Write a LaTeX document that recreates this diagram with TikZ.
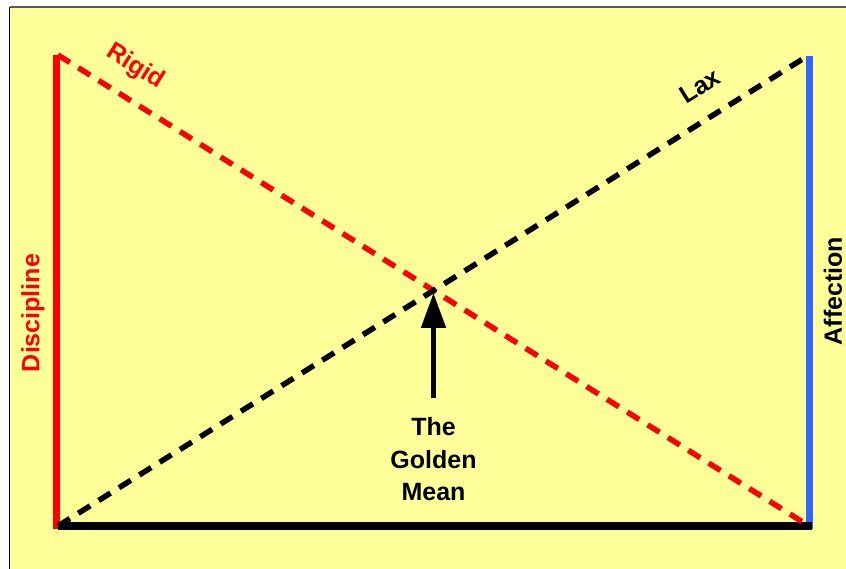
\documentclass[tikz,border=0pt]{standalone}
\usepackage{fontspec}
\setmainfont{Liberation Sans}
\usetikzlibrary{arrows.meta}
\definecolor{bgyellow}{RGB}{255,255,153}
\definecolor{myred}{RGB}{255,0,0}
\definecolor{myblue}{RGB}{51,102,255}
\tikzset{
  axisline/.style={line width=7pt},
  diag/.style={line width=5.5pt, dash pattern=on 14pt off 10pt},
  lbl/.style={font=\fontsize{25}{32.5}\selectfont\bfseries, inner sep=0pt},
}
\begin{document}
\begin{tikzpicture}[x=1pt,y=-1pt]
\useasboundingbox (0,0) rectangle (846,569);
\fill[white] (0,0) rectangle (846,569);
\fill[bgyellow] (9.5,7) rectangle (846,569);
\draw[gray!70!black, line width=1.5pt] (9.5,7) -- (846,7);
\draw[black, line width=1.5pt] (9.5,7) -- (9.5,569);
% corners
\coordinate (TL) at (58,55);
\coordinate (BL) at (58,526);
\coordinate (TR) at (809,55);
\coordinate (BR) at (809,526);
\coordinate (RT) at (56,55);
\coordinate (RB) at (56,529);
\coordinate (BT) at (809,56);
\coordinate (BB) at (809,529);
% axes
\draw[axisline, myred] (RT) -- (RB);
\draw[axisline, myblue] (BT) -- (BB);
\draw[line width=8pt, black] (BL) -- ([xshift=3pt]BR);
% diagonals
\draw[diag, myred] (TL) -- (BR);
\draw[diag, black] (BL) -- (TR);
\coordinate (X) at (433.5,291);
% labels
\node[lbl, myred, rotate=-32] (rigid) at (135,67) {Rigid};
\node[lbl, black, rotate=32] (lax) at (700,86) {Lax};
\node[lbl, myred, rotate=90] (disc) at (33,313) {Discipline};
\node[lbl, black, rotate=90] (aff) at (833,291) {Affection};
\node[lbl, black, align=center, anchor=north] (gm) at (433.5,417.5) {The\\Golden\\Mean};
% arrow
\draw[line width=5pt, -{Triangle[length=35pt,width=24pt]}, shorten <=20pt, shorten >=2pt] (gm.north) -- (X);
\end{tikzpicture}
\end{document}
